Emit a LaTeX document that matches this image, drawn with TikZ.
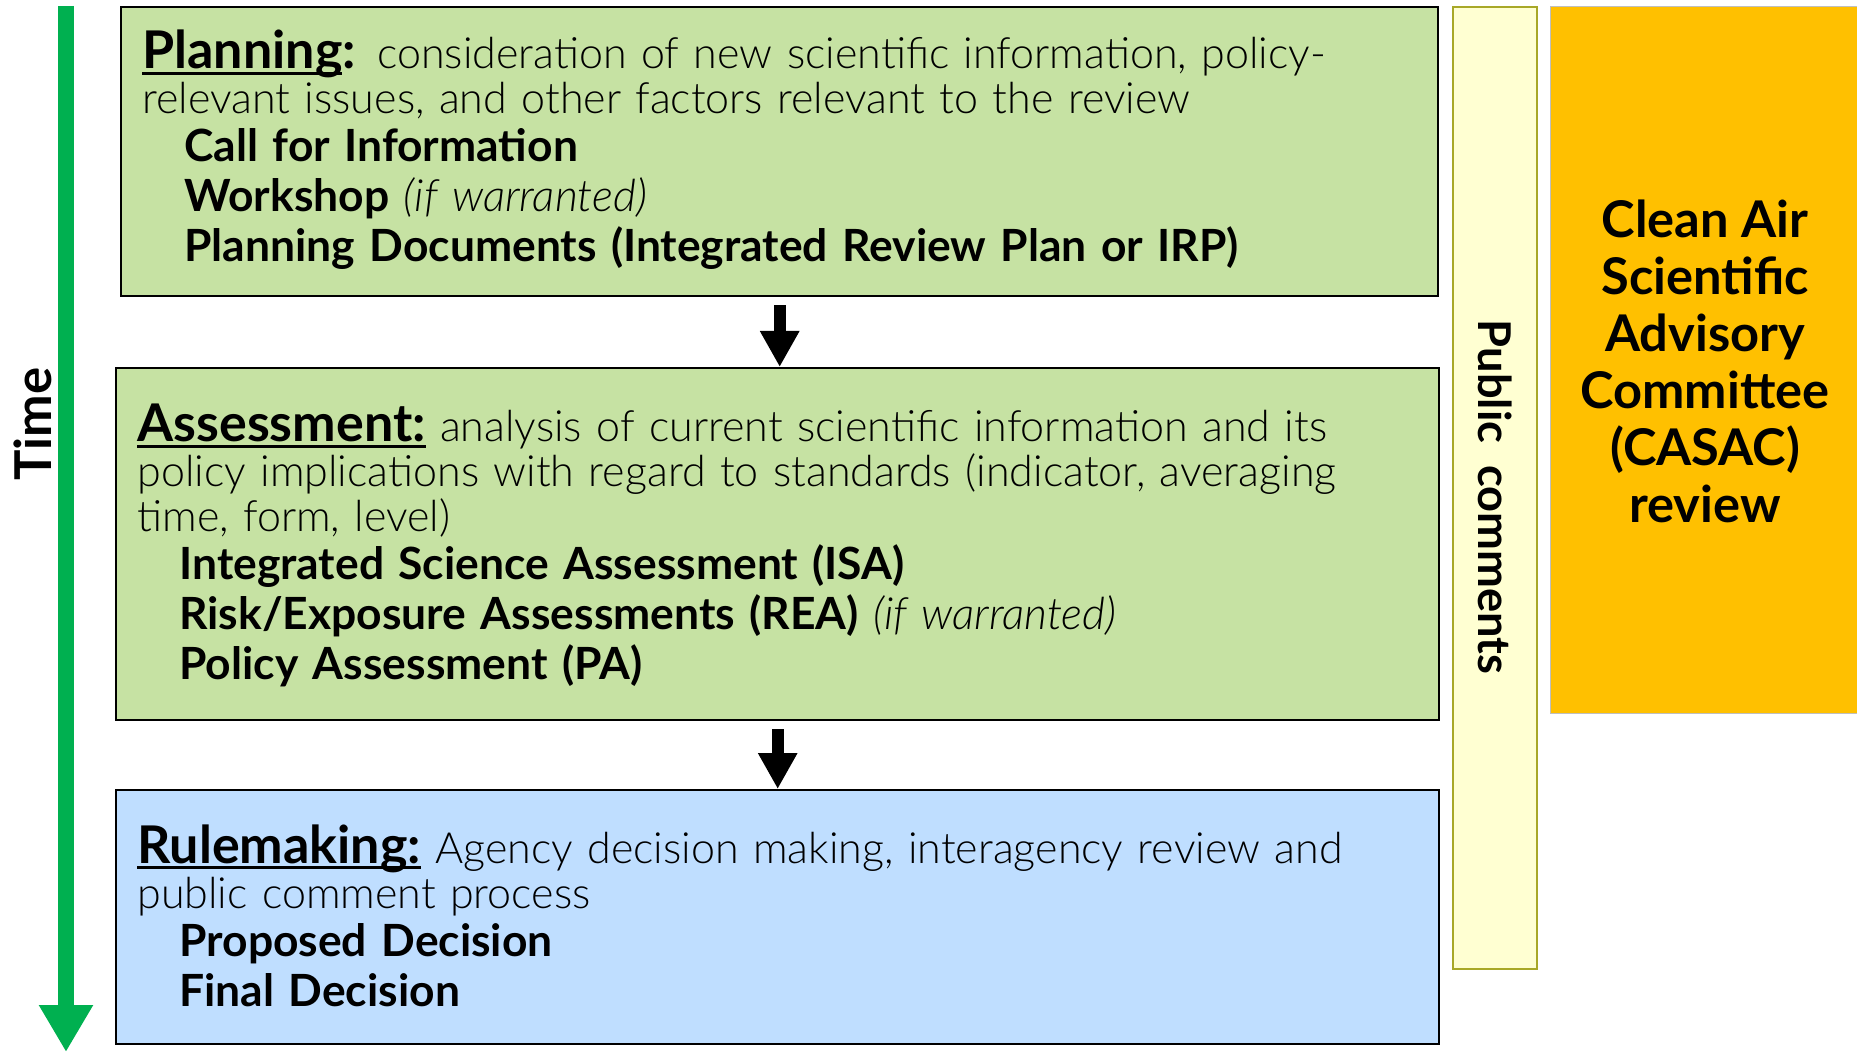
\documentclass[tikz,border=0pt]{standalone}
\usepackage{fontspec}
\setmainfont{Lato}[UprightFont={* Light},ItalicFont={* Light Italic},BoldFont={* Bold}]
\usetikzlibrary{arrows.meta,positioning}
\tikzstyle{stage}=[draw=black,line width=1.2pt,anchor=north west,inner sep=0pt]
\tikzstyle{stagetext}=[anchor=base west,text width=720pt,align=left,inner sep=0pt,font=\fontsize{21.5}{22.5}\selectfont]
\tikzstyle{flow}=[line width=6pt,-{Triangle[width=18.5pt,length=18pt]},shorten <=4pt]
\tikzstyle{timeline}=[draw=timegreen,line width=8pt,-{Triangle[width=25.5pt,length=23.5pt]}]
\definecolor{plangreen}{RGB}{198,226,163}
\definecolor{ruleblue}{RGB}{191,222,255}
\definecolor{timegreen}{RGB}{0,176,80}
\definecolor{publicfill}{RGB}{255,255,210}
\definecolor{publicedge}{RGB}{168,168,40}
\definecolor{casacgold}{RGB}{255,192,0}
\newcommand{\heading}[2]{{\fontsize{26}{22.5}\selectfont\bfseries\setbox0=\hbox{#1}\rlap{\rule[-2.8pt]{\wd0}{1.3pt}}\box0#2}}
\newcommand{\stepitem}[1]{\hspace*{21pt}{\fontsize{22.2}{22.5}\selectfont\bfseries #1}}

\begin{document}
\begin{tikzpicture}[x=0.5pt,y=-0.5pt]
  \useasboundingbox (0,0) rectangle (1857,1052);

  \node[stage,fill=plangreen,minimum width=658.5pt,minimum height=144.5pt] (plan)   at (120,6)   {};
  \node[stage,fill=plangreen,minimum width=661.5pt,minimum height=176pt]   (assess) at (115,367) {};
  \node[stage,fill=ruleblue, minimum width=661.5pt,minimum height=127pt]   (rule)   at (115,789) {};
  \node[stage,draw=publicedge,fill=publicfill,minimum width=42pt,minimum height=481pt] (pub) at (1452,6) {};
  \node[stage,draw=black!25,line width=0.5pt,fill=casacgold,minimum width=160pt,minimum height=353.5pt] (casac) at (1550,6) {};

  \node[stagetext] (plantext) at (142,69) {\heading{Planning}{:} consideration of new scientific information, policy-\\
    relevant issues, and other factors relevant to the review\\[1.5pt]
    \stepitem{Call for Information}\\[2.5pt]
    \stepitem{Workshop {\mdseries\itshape (if warranted)}}\\[2.5pt]
    \stepitem{Planning Documents (Integrated Review Plan or IRP)}};
  \node[stagetext] (assesstext) at (137,442) {\heading{Assessment:}{} analysis of current scientific information and its\\
    policy implications with regard to standards (indicator, averaging\\
    time, form, level)\\[1.5pt]
    \stepitem{Integrated Science Assessment (ISA)}\\[2.5pt]
    \stepitem{Risk/Exposure Assessments (REA) {\mdseries\itshape (if warranted)}}\\[2.5pt]
    \stepitem{Policy Assessment (PA)}};
  \node[stagetext] (ruletext) at (137,863) {\heading{Rulemaking:}{} Agency decision making, interagency review and\\
    public comment process\\[1.5pt]
    \stepitem{Proposed Decision}\\[2.5pt]
    \stepitem{Final Decision}};

  \node[rotate=-90,font=\fontsize{22.6}{24}\selectfont\bfseries] (pubtext) at (1495,497) {Public\ \ comments};
  \node[align=center,font=\fontsize{25.3}{28.5}\selectfont\bfseries] (casactext) at (1705,361) {Clean Air\\Scientific\\Advisory\\Committee\\(CASAC)\\review};

  \coordinate (ttop) at (66,6);
  \coordinate (tbot) at (66,1052);
  \draw[timeline] (ttop) -- (tbot);
  \node[rotate=90,font=\fontsize{25.4}{24}\selectfont\bfseries] (time) at (33,424) {Time};

  \draw[flow] (plan.south) -- (plan.south |- assess.north);
  \draw[flow] (assess.south) -- (assess.south |- rule.north);
\end{tikzpicture}
\end{document}
